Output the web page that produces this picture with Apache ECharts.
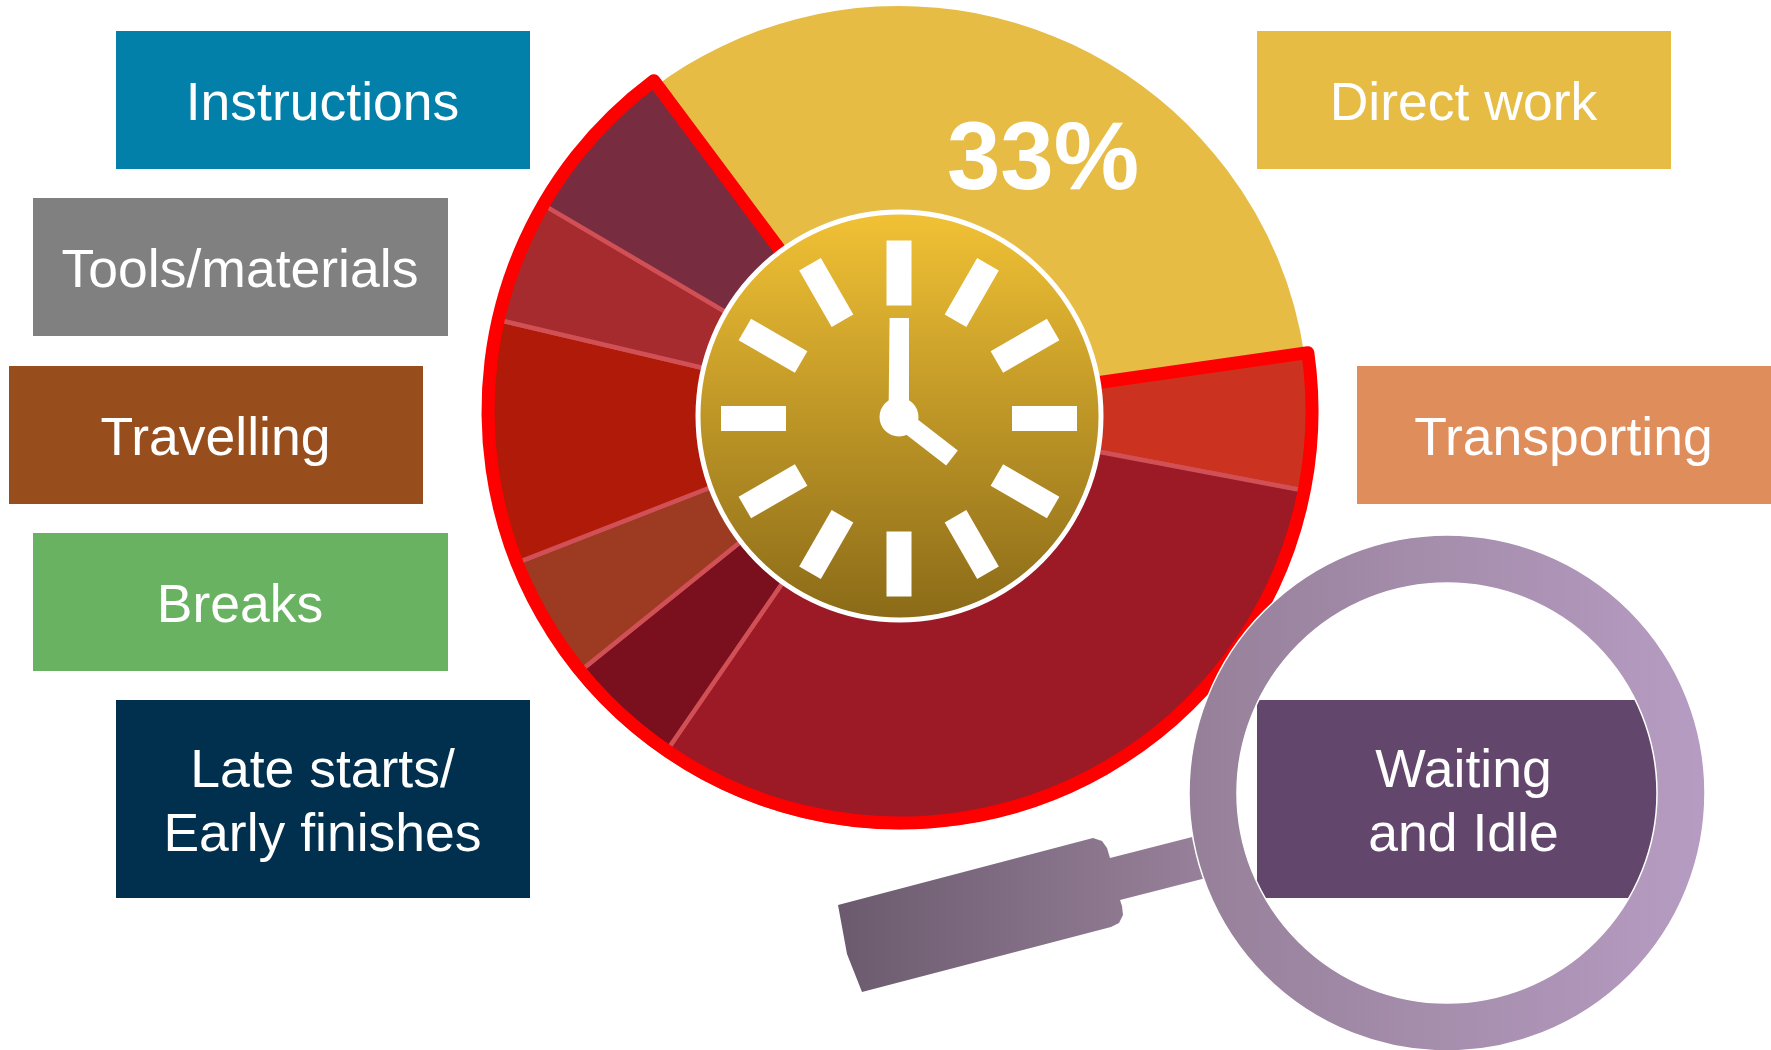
<!DOCTYPE html>
<html>
<head>
<meta charset="utf-8">
<style>html,body{margin:0;padding:0;background:#fff}#c{width:1771px;height:1050px}</style>
<script src="https://cdn.jsdelivr.net/npm/echarts@6/dist/echarts.min.js"></script>
</head>
<body>
<div id="c"></div>
<script>
// Share of working time, clockwise from the top-left edge of "Direct work"
const categories = ['Direct work','Transporting','Waiting and Idle','Late starts/Early finishes','Breaks','Travelling','Tools/materials','Instructions'];
const shares = [33, 5.3, 31.7, 4.6, 4.9, 9.6, 4.8, 6.3];
const sliceColors = ['#e6bc45','#cb3220','#9c1926','#7a101e','#9c3a22','#b01a08','#a52b2e','#772c40'];

const boxLabels = ['Instructions','Tools/materials','Travelling','Breaks','Late starts/\nEarly finishes','Direct work','Transporting','Waiting\nand Idle'];
const boxColors = ['#0280aa','#808080','#984e1c','#68b262','#01304f','#e6bc45','#de8d5b','#63466b'];
const boxRects = [[116,31,414,138],[33,198,415,138],[9,366,414,138],[33,533,415,138],[116,700,414,198],[1257,31,414,138],[1357,366,414,138],[1257,700,414,198]];

const CX = 899, CY = 416;
const startAngle = 126.9;
const g = echarts.graphic;
const waste = shares.slice(1).reduce((a,b)=>a+b,0);

const elements = [];
boxRects.forEach((r,i)=>{
  elements.push({type:'rect',z:10,shape:{x:r[0],y:r[1],width:r[2],height:r[3]},style:{fill:boxColors[i]}});
  elements.push({type:'text',z:11,x:r[0]+r[2]/2-0.5,y:r[1]+r[3]/2+5.5,style:{text:boxLabels[i],fill:'#fff',font:'53.5px "Liberation Sans", Arial, sans-serif',lineHeight:64,align:'center',verticalAlign:'middle'}});
});
// headline
elements.push({type:'text',z:12,x:1043,y:163,style:{text:shares[0]+'%',fill:'#fff',font:'bold 96px "Liberation Sans", Arial, sans-serif',align:'center',verticalAlign:'middle'}});
// clock
elements.push({type:'ellipse',z:12,shape:{cx:CX+0.5,cy:CY,rx:201.5,ry:204},style:{fill:new g.LinearGradient(0,0,0,1,[{offset:0,color:'#f2c235'},{offset:1,color:'#8a6a18'}]),stroke:'#fff',lineWidth:5}});
for(let h=0;h<12;h++){
  elements.push({type:'rect',z:13,x:CX,y:CY+2.5,rotation:-h*Math.PI/6,shape:{x:-12.5,y:-178,width:25,height:65},style:{fill:'#fff'}});
}
elements.push({type:'polygon',z:13,shape:{points:[[888.5,420],[889.6,318],[909,318],[909,420]]},style:{fill:'#fff'}});
elements.push({type:'line',z:13,shape:{x1:CX,y1:CY+1,x2:952,y2:458},style:{stroke:'#fff',lineWidth:19}});
elements.push({type:'circle',z:13,shape:{cx:CX,cy:CY+1,r:19.5},style:{fill:'#fff'}});
// magnifier
const glassFill = ()=>new g.LinearGradient(838,0,1704,0,[{offset:0,color:'#6b5a6e'},{offset:0.41,color:'#968099'},{offset:1,color:'#b69cc2'}],true);
elements.push({type:'polygon',z:14,shape:{points:[[838,905],[847,954],[862,992],[1111,927],[1119,923],[1123,915],[1122,906],[1120,900],[1210,877],[1200,835],[1110,858],[1107,848],[1102,841],[1093,838]]},style:{fill:glassFill()}});
elements.push({type:'ring',z:15,shape:{cx:1447,cy:793,r:258,r0:210},style:{fill:glassFill(),stroke:'#fff',lineWidth:1.5}});

const pieBase = {type:'pie',silent:true,clockwise:true,label:{show:false},labelLine:{show:false},emphasis:{disabled:true}};
const clear = {color:'transparent',borderWidth:0};

const chart = echarts.init(document.getElementById('c'),null,{renderer:'canvas'});
chart.setOption({
  animation:false,
  backgroundColor:'#fff',
  tooltip:{show:false},
  graphic:{elements},
  series:[
    // red-toned slices
    Object.assign({},pieBase,{z:2,center:[CX,414],radius:[0,413],startAngle,
      data:categories.map((name,i)=>({name,value:shares[i],itemStyle:i===0?clear:{color:sliceColors[i],borderColor:'#d05055',borderWidth:4.5}}))}),
    // the Direct work slice
    Object.assign({},pieBase,{z:3,center:[CX,CY],radius:[0,410],startAngle,
      data:[{name:categories[0],value:shares[0],itemStyle:{color:sliceColors[0],borderWidth:0}},
            {name:'Non-productive',value:waste,itemStyle:clear}]}),
    // red outline around everything that is not direct work
    Object.assign({},pieBase,{z:4,center:[900,411],radius:[0,412],startAngle:126.7,
      data:[{name:categories[0],value:shares[0],itemStyle:clear},
            {name:'Non-productive',value:waste,itemStyle:{color:'transparent',borderColor:'#ff0000',borderWidth:13,borderJoin:'round'}}]})
  ]
});
</script>
</body>
</html>
